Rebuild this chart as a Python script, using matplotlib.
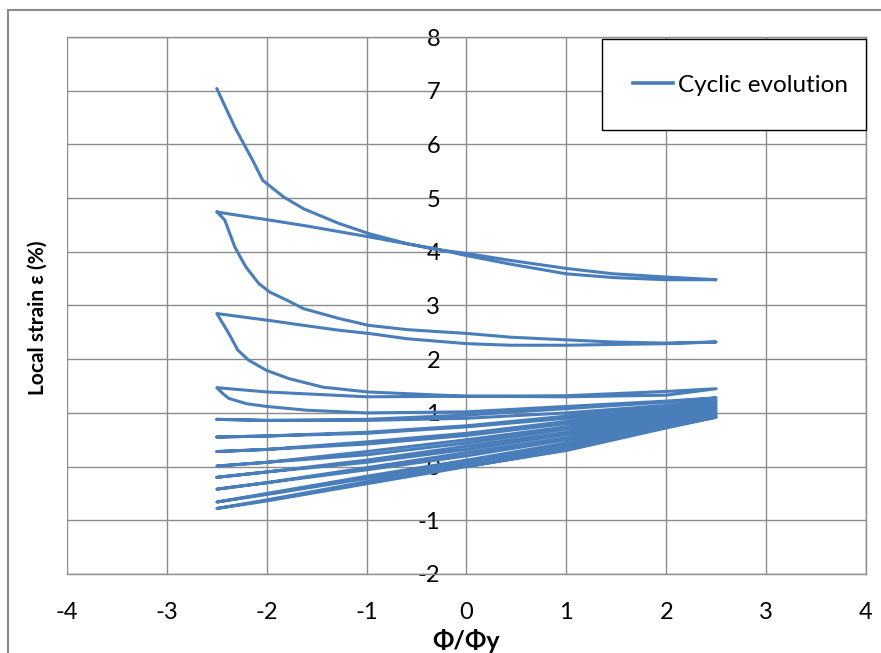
import matplotlib
matplotlib.use("Agg")
import matplotlib.pyplot as plt
from matplotlib.patches import Rectangle
from matplotlib.lines import Line2D

plt.rcParams['font.family'] = ['Lato', 'DejaVu Sans']

# ---- data: branches of the cyclic path (x = Phi/Phi_y, y = local strain %) ----
xs_std = [-2.5, -2, -1, 0, 1, 2, 2.5]
xs_rev = [2.5, 2, 1, 0, -1, -2, -2.5]

b0_x = [0, 1, 2, 2.5]
b0_y = [0.0, 0.30, 0.72, 0.92]
r0_y = [0.92, 0.74, 0.32, 0.00, -0.32, -0.64, -0.78]
g1_y = [-0.78, -0.62, -0.28, 0.04, 0.36, 0.76, 0.95]
r1_y = [0.95, 0.78, 0.40, 0.08, -0.22, -0.52, -0.66]
g2_y = [-0.66, -0.50, -0.18, 0.12, 0.44, 0.82, 0.99]
r2_y = [0.99, 0.84, 0.50, 0.20, -0.06, -0.30, -0.42]
g3_y = [-0.42, -0.30, -0.02, 0.26, 0.54, 0.88, 1.03]
r3_y = [1.03, 0.90, 0.60, 0.32, 0.08, -0.10, -0.20]
g4_y = [-0.20, -0.10, 0.12, 0.38, 0.64, 0.94, 1.08]
r4_y = [1.08, 0.96, 0.70, 0.44, 0.22, 0.08, 0.01]
g5_y = [0.01, 0.08, 0.28, 0.50, 0.74, 1.00, 1.13]
r5_y = [1.13, 1.02, 0.80, 0.58, 0.42, 0.32, 0.28]
g6_y = [0.28, 0.32, 0.46, 0.62, 0.84, 1.06, 1.18]
r6_y = [1.18, 1.08, 0.90, 0.74, 0.62, 0.57, 0.55]
g7_y = [0.55, 0.57, 0.64, 0.76, 0.94, 1.12, 1.23]
r7_y = [1.23, 1.14, 1.00, 0.90, 0.86, 0.86, 0.88]
g8_y = [0.88, 0.86, 0.88, 0.96, 1.08, 1.20, 1.28]

r8_x = [2.5, 2, 1, 0, -1, -1.6, -2, -2.2, -2.38, -2.44, -2.5]
r8_y = [1.28, 1.22, 1.12, 1.02, 1.00, 1.05, 1.12, 1.17, 1.27, 1.36, 1.47]
g9_y = [1.47, 1.39, 1.30, 1.31, 1.32, 1.40, 1.45]
r9_x = [2.5, 2, 1, 0, -0.61, -0.99, -1.44, -1.78, -2.0, -2.18, -2.29, -2.38, -2.5]
r9_y = [1.45, 1.33, 1.30, 1.31, 1.36, 1.39, 1.48, 1.64, 1.79, 1.98, 2.17, 2.48, 2.85]
g10_x = [-2.5, -1.97, -1.63, -1.28, -0.98, -0.59, 0, 0.44, 1.0, 2.0, 2.5]
g10_y = [2.85, 2.72, 2.63, 2.54, 2.48, 2.38, 2.29, 2.26, 2.26, 2.29, 2.32]
r10_x = [2.5, 2.0, 1.47, 1.0, 0.44, 0, -0.59, -0.98, -1.28, -1.63, -1.80, -1.97,
         -2.08, -2.21, -2.32, -2.42, -2.5]
r10_y = [2.32, 2.30, 2.32, 2.36, 2.41, 2.48, 2.55, 2.63, 2.76, 2.94, 3.10, 3.25,
         3.41, 3.72, 4.09, 4.59, 4.75]
g11_x = [-2.5, -1.97, -1.63, -0.98, -0.25, 0, 0.44, 1.0, 1.47, 2.0, 2.5]
g11_y = [4.74, 4.59, 4.49, 4.28, 4.03, 3.93, 3.77, 3.59, 3.52, 3.48, 3.48]
r11_x = [2.5, 2.0, 1.47, 1.0, 0.44, 0, -0.25, -0.59, -0.98, -1.28, -1.63, -1.83,
         -2.04, -2.14, -2.32, -2.5]
r11_y = [3.48, 3.53, 3.59, 3.69, 3.84, 3.97, 4.03, 4.15, 4.34, 4.53, 4.80, 5.02,
         5.33, 5.70, 6.32, 7.04]

series_name = "Cyclic evolution"
x_ticks = [-4, -3, -2, -1, 0, 1, 2, 3, 4]
y_ticks = [-2, -1, 0, 1, 2, 3, 4, 5, 6, 7, 8]

branches = [
    (b0_x, b0_y), (xs_rev, r0_y),
    (xs_std, g1_y), (xs_rev, r1_y), (xs_std, g2_y), (xs_rev, r2_y),
    (xs_std, g3_y), (xs_rev, r3_y), (xs_std, g4_y), (xs_rev, r4_y),
    (xs_std, g5_y), (xs_rev, r5_y), (xs_std, g6_y), (xs_rev, r6_y),
    (xs_std, g7_y), (xs_rev, r7_y), (xs_std, g8_y), (r8_x, r8_y),
    (xs_std, g9_y), (r9_x, r9_y), (g10_x, g10_y), (r10_x, r10_y),
    (g11_x, g11_y), (r11_x, r11_y),
]
path_x, path_y = [], []
for bx, by in branches:
    path_x.extend(bx)
    path_y.extend(by)

# ---- figure ----
W, H = 881, 653
fig = plt.figure(figsize=(W / 100, H / 100), dpi=100)
ax = fig.add_axes([67 / W, 1 - 574 / H, (866 - 67) / W, (574 - 37) / H])

grid_c = '#8c8c8c'
line_c = '#4a7ebb'

ax.plot(path_x, path_y, color=line_c, lw=2.2, solid_joinstyle='round',
        solid_capstyle='round', label=series_name, zorder=3)

ax.set_xlim(x_ticks[0], x_ticks[-1])
ax.set_ylim(y_ticks[0], y_ticks[-1])
ax.set_xticks(x_ticks)
ax.set_yticks(y_ticks)
ax.set_xticklabels([str(v) for v in x_ticks])
ax.set_yticklabels([str(v) for v in y_ticks])
ax.grid(True, color=grid_c, lw=1.0)
for s in ax.spines.values():
    s.set_color(grid_c)
    s.set_linewidth(1.0)
ax.spines['left'].set_position(('data', 0))
ax.spines['left'].set_visible(False)
ax.tick_params(axis='both', length=0, labelsize=17, colors='black')
ax.tick_params(axis='y', pad=19)
ax.tick_params(axis='x', pad=20)

ax.set_xlabel("Φ/Φy", fontsize=18, fontweight='bold')
ax.xaxis.set_label_coords(0.5, (574 - 641) / 537)
ax.xaxis.label.set_va('center')
ax.set_ylabel("Local strain ε (%)", fontsize=15, fontweight='bold')
ax.yaxis.set_label_coords((38 - 67) / 799, (574 - 318) / 537)
ax.yaxis.label.set_va('center')

# legend box
fig.patches.append(Rectangle((602 / W, 1 - 130 / H), (866 - 602) / W, (130 - 39) / H,
                             transform=fig.transFigure, fill=True, facecolor='white',
                             edgecolor='black', lw=1.0, zorder=5))
leg = fig.legend(handles=[Line2D([], [], color=line_c, lw=2.6)], labels=[series_name],
                 loc='center left', bbox_to_anchor=(611 / W, 1 - 85 / H),
                 frameon=False, fontsize=17.5, handlelength=1.65, handletextpad=0.2)
leg.set_zorder(6)

# outer chart border
fig.patches.append(Rectangle((8 / W, -0.1), 1.2, 1.1 - 10 / H, transform=fig.transFigure,
                             fill=False, edgecolor='#8a8a8a', lw=1.5))

fig.savefig("out.png", dpi=100)
